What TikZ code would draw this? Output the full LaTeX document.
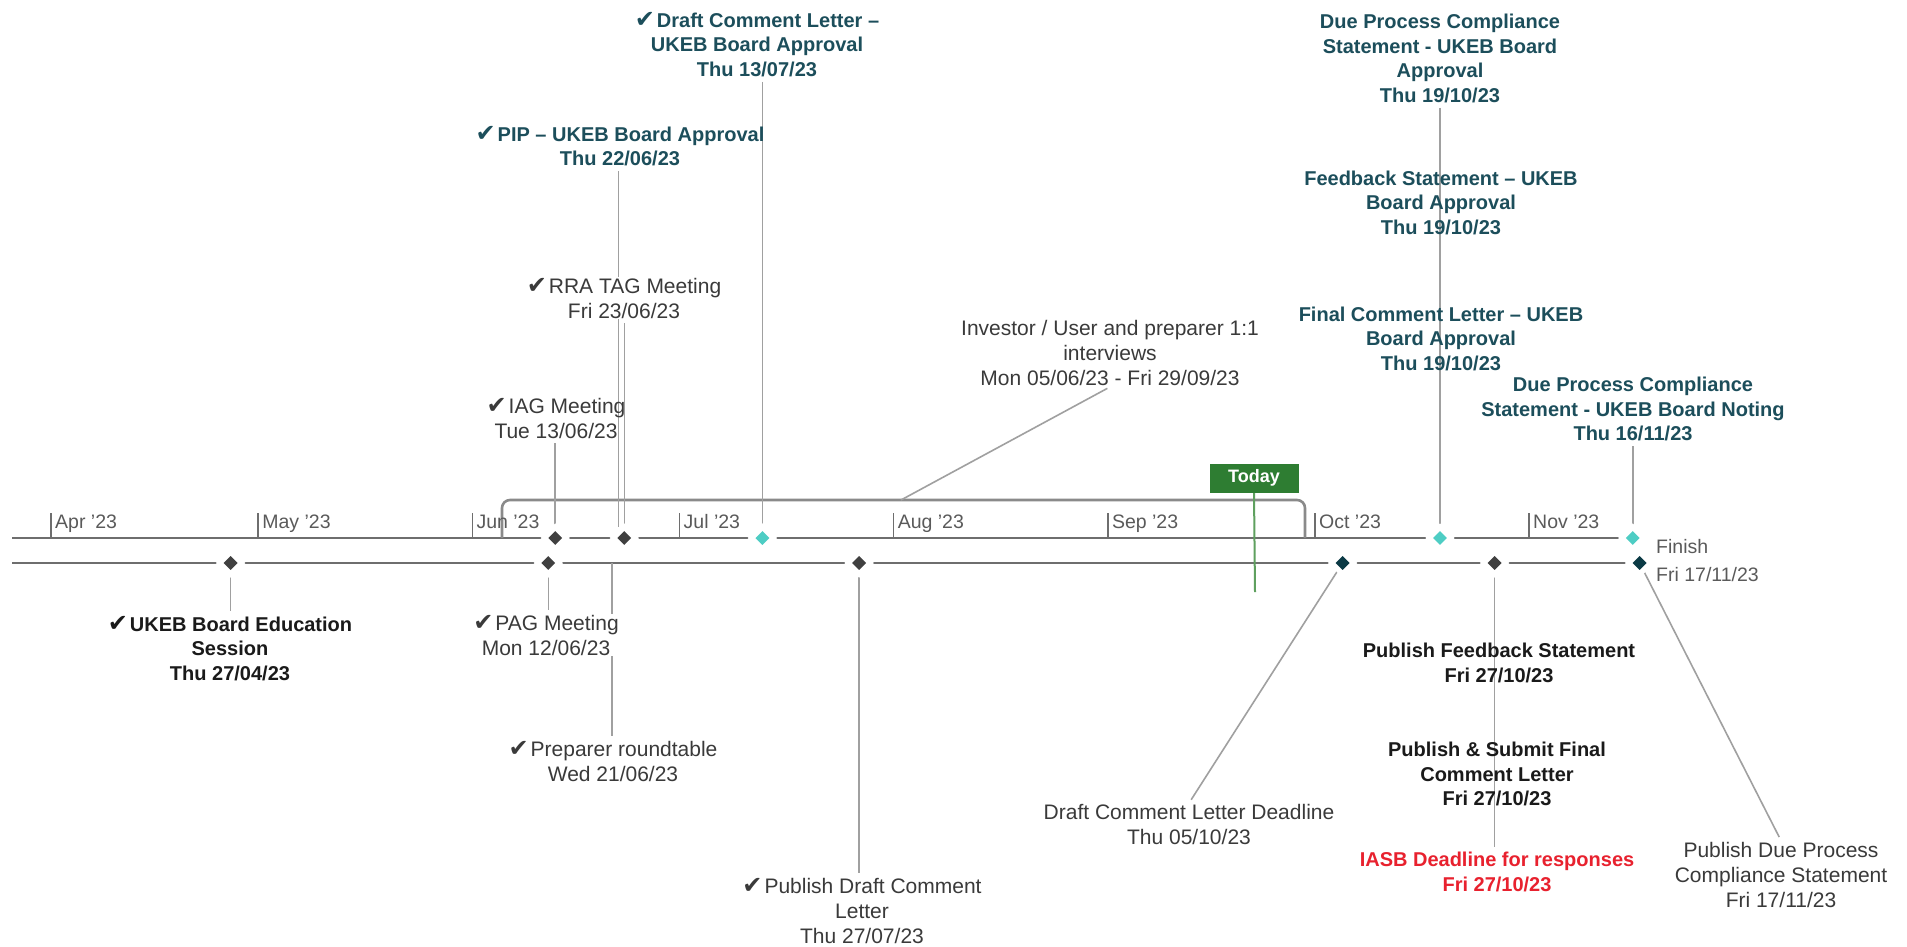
\documentclass[tikz,border=0pt]{standalone}
\usepackage{fontspec}
\setmainfont{Liberation Sans}
\newfontfamily\symf{DejaVu Sans}
\usetikzlibrary{shapes.geometric}
\pgfdeclarelayer{bg}
\pgfdeclarelayer{paper}
\pgfsetlayers{paper,bg,main}
\definecolor{tealtx}{HTML}{1C4E5B}
\definecolor{regtx}{HTML}{3A3A3A}
\definecolor{boldtx}{HTML}{1A1A1A}
\definecolor{redtx}{HTML}{E8212E}
\definecolor{montx}{HTML}{5A5A5A}
\definecolor{tlgray}{HTML}{6E6E6E}
\definecolor{brgray}{HTML}{8A8A8A}
\definecolor{cgray}{HTML}{A0A0A0}
\definecolor{dgray}{HTML}{404040}
\definecolor{cyanm}{HTML}{4ECDC4}
\definecolor{dteal}{HTML}{0B3A45}
\definecolor{tgreen}{HTML}{2E7D32}
\definecolor{lgreen}{HTML}{5FA05F}
\newcommand{\ck}{{\symf\fontsize{24}{25}\selectfont ✔}\hspace{2pt}}
\tikzset{
  lblr/.style={align=center, font=\fontsize{21}{25}\selectfont, text=regtx, inner sep=1pt},
  lblb/.style={align=center, font=\fontsize{20}{24.5}\selectfont\bfseries, text=boldtx, inner sep=1pt},
  lblt/.style={lblb, text=tealtx},
  ms/.style={diamond, minimum size=14pt, inner sep=0pt, fill=#1, preaction={draw=white, line width=11pt}},
  conn/.style={draw=cgray, line width=1.6pt},
  tline/.style={draw=tlgray, line width=2.6pt},
  mtick/.style={draw=tlgray, line width=1.6pt},
  mon/.style={font=\fontsize{19.5}{22}\selectfont, text=montx, anchor=base west, inner sep=0pt},
}
\begin{document}
\begin{tikzpicture}[x=1pt,y=-1pt]
\begin{pgfonlayer}{paper}
\fill[white] (0,0) rectangle (1907,946);
\end{pgfonlayer}
\useasboundingbox (0,0) rectangle (1907,946);

% month ticks and labels
\foreach \x/\m [count=\i] in {51/Apr, 258.2/May, 472.3/Jun, 679.5/Jul, 893.6/Aug, 1107.8/Sep, 1315/Oct, 1529/Nov} {
  \coordinate (t\i) at (\x,538);
  \coordinate (u\i) at (\x,513);
  \node[mon] (m\i) at ({\x+4},528) {\m\ ’23};
}

% coordinates
\coordinate (brL) at (502,538);
\coordinate (brR) at (1305,538);
\coordinate (brTop) at (901,500);
\coordinate (pipEnd) at (618.5,527);
\coordinate (prepTop) at (612,563);
\coordinate (lineA) at (12,538);
\coordinate (lineB) at (12,563);
\coordinate (todayEnd) at (1255,592);

% milestones
\node[ms=dgray] (dIAG) at (555.2,538) {};
\node[ms=dgray] (dRRA) at (624.3,538) {};
\node[ms=cyanm] (dDCL) at (762.4,538) {};
\node[ms=cyanm] (dOct19) at (1440,538) {};
\node[ms=cyanm] (dNov16) at (1632.7,538) {};
\node[ms=dgray] (dEdu) at (230.6,563) {};
\node[ms=dgray] (dPAG) at (548.3,563) {};
\node[ms=dgray] (dPub) at (859.1,563) {};
\node[ms=dteal] (dOct5) at (1342.6,563) {};
\node[ms=dgray] (dOct27) at (1494.6,563) {};
\node[ms=dteal] (dNov17) at (1639.6,563) {};

% today
\node[fill=tgreen, text=white, font=\fontsize{18}{20}\selectfont\bfseries, minimum width=89pt, minimum height=29pt, inner sep=0pt] (today) at (1254,478) {Today};

% labels above
\node[lblt] (draft) at (757,44.5) {\ck Draft Comment Letter –\\UKEB Board Approval\\Thu 13/07/23};
\node[lblt] (pip) at (620,146) {\ck PIP – UKEB Board Approval\\Thu 22/06/23};
\node[lblr, fill=white] (rra) at (624,298) {\ck RRA TAG Meeting\\Fri 23/06/23};
\node[lblr] (iag) at (556,418) {\ck IAG Meeting\\Tue 13/06/23};
\node[lblr] (inv) at (1110,353) {Investor / User and preparer 1:1\\interviews\\Mon 05/06/23 - Fri 29/09/23};
\node[lblt] (dpca) at (1440,58.5) {Due Process Compliance\\Statement - UKEB Board\\Approval\\Thu 19/10/23};
\node[lblt] (fbs) at (1441,202.5) {Feedback Statement – UKEB\\Board Approval\\Thu 19/10/23};
\node[lblt] (fcl) at (1441,338.5) {Final Comment Letter – UKEB\\Board Approval\\Thu 19/10/23};
\node[lblt] (dpcn) at (1633,409) {Due Process Compliance\\Statement - UKEB Board Noting\\Thu 16/11/23};
\node[lblr, text=montx, align=left, anchor=west, font=\fontsize{19.5}{28}\selectfont] (fin) at (1655,561) {Finish\\Fri 17/11/23};

% labels below
\node[lblb] (edu) at (230,648.5) {\ck UKEB Board Education\\Session\\Thu 27/04/23};
\node[lblr, fill=white] (pag) at (546,635) {\ck PAG Meeting\\Mon 12/06/23};
\node[lblr] (prep) at (613,761) {\ck Preparer roundtable\\Wed 21/06/23};
\node[lblr] (pdcl) at (862,911) {\ck Publish Draft Comment\\Letter\\Thu 27/07/23};
\node[lblr] (dead) at (1189,824.5) {Draft Comment Letter Deadline\\Thu 05/10/23};
\node[lblb] (pfs) at (1499,663) {Publish Feedback Statement\\Fri 27/10/23};
\node[lblb] (psf) at (1497,774) {Publish \& Submit Final\\Comment Letter\\Fri 27/10/23};
\node[lblb, text=redtx] (iasb) at (1497,872) {IASB Deadline for responses\\Fri 27/10/23};
\node[lblr] (pdps) at (1781,874.5) {Publish Due Process\\Compliance Statement\\Fri 17/11/23};

\begin{pgfonlayer}{bg}
  \draw[tline] (lineA) -- (dNov16.center);
  \draw[tline] (lineB) -- (dNov17.center);
  \foreach \i in {1,...,8} { \draw[mtick] (t\i) -- (u\i); }
  \draw[draw=brgray, line width=2.6pt, rounded corners=8pt] (brL) -- (brL |- brTop) -- (brR |- brTop) -- (brR);
  \draw[conn, shorten <=4pt] (draft.south -| dDCL) -- (dDCL.center);
  \draw[conn, shorten <=4pt] (pip.south -| pipEnd) -- (pipEnd);
  \draw[conn, shorten <=4pt] (rra.south -| dRRA) -- (dRRA.center);
  \draw[conn, shorten <=4pt] (iag.south -| dIAG) -- (dIAG.center);
  \draw[conn, shorten <=3pt] (inv.south) -- (brTop);
  \draw[conn, shorten <=4pt] (dpca.south -| dOct19) -- (dOct19.center);
  \draw[conn, shorten <=4pt] (dpcn.south -| dNov16) -- (dNov16.center);
  \draw[conn, shorten >=4pt] (dEdu.center) -- (edu.north -| dEdu);
  \draw[conn, shorten >=4pt] (dPAG.center) -- (pag.north -| dPAG);
  \draw[conn, shorten >=4pt] (prepTop) -- (prep.north -| prepTop);
  \draw[conn, shorten >=4pt] (dPub.center) -- (pdcl.north -| dPub);
  \draw[conn, shorten >=4pt] (dOct5.center) -- (dead.north);
  \draw[conn, shorten >=4pt] (dOct27.center) -- (iasb.north -| dOct27);
  \draw[conn, shorten >=4pt] (dNov17.center) -- (pdps.north);
  \draw[draw=lgreen, line width=2pt] (today.south) -- (todayEnd);
\end{pgfonlayer}
\end{tikzpicture}
\end{document}
